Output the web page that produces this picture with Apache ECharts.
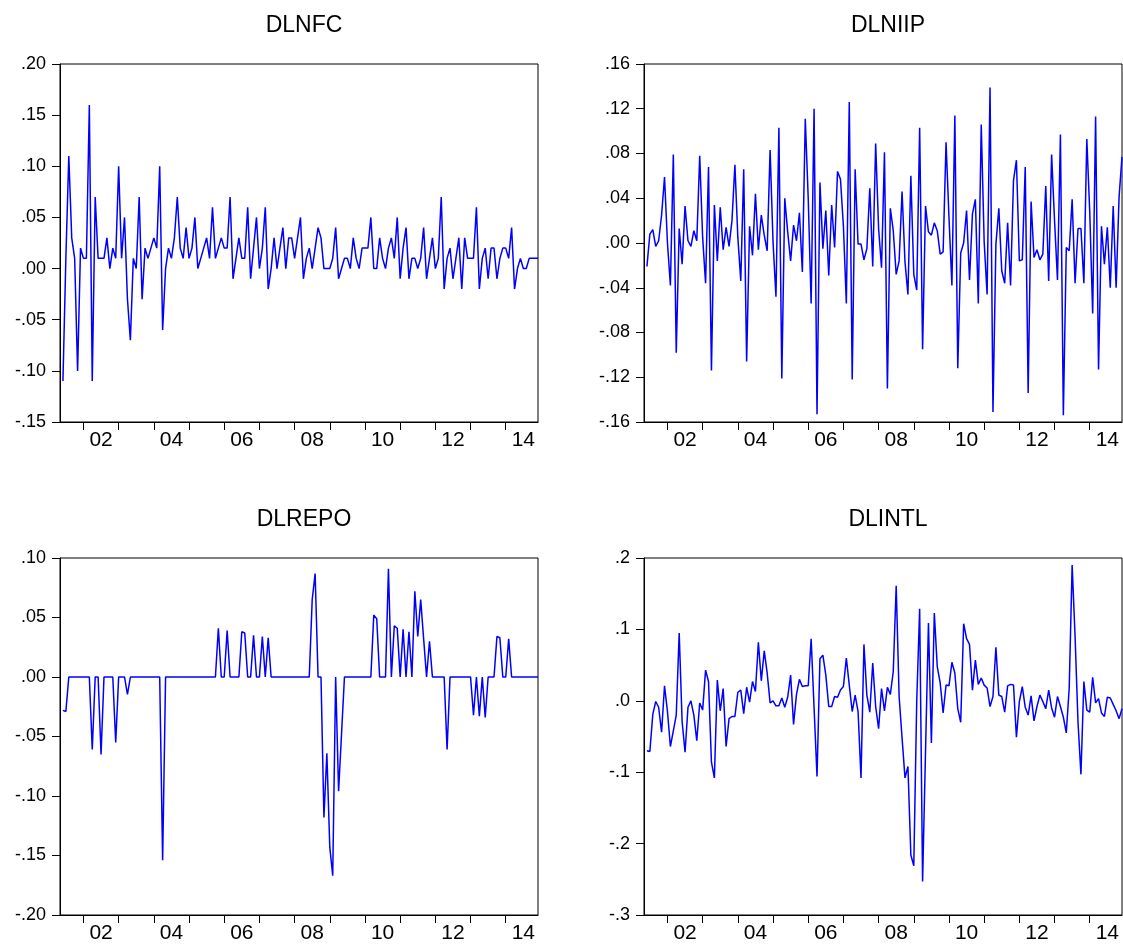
<!DOCTYPE html>
<html lang="en" style="height: 100%">
<head>
<meta charset="utf-8">
<title>DLNFC DLNIIP DLREPO DLINTL</title>
</head>
<body style="height: 100%; margin: 0; background: #fff">
<div id="container" style="width: 1123px; height: 948px"></div>
<script type="text/javascript" src="https://cdn.jsdelivr.net/npm/echarts/dist/echarts.min.js"></script>
<script type="text/javascript">
// monthly observations, 2001M06 .. 2014M12
var startYear = 2001;
var startMonth = 6;

var dlnfc = [
  -0.11, 0.01, 0.11, 0.03, 0.01, -0.10, 0.02, 0.01, 0.01, 0.16, -0.11, 0.07, 0.01, 0.01, 0.01, 0.03,
  0.00, 0.02, 0.01, 0.10, 0.01, 0.05, -0.03, -0.07, 0.01, 0.00, 0.07, -0.03, 0.02, 0.01, 0.02, 0.03,
  0.02, 0.10, -0.06, 0.00, 0.02, 0.01, 0.03, 0.07, 0.02, 0.01, 0.04, 0.01, 0.02, 0.05, 0.00, 0.01,
  0.02, 0.03, 0.01, 0.06, 0.01, 0.02, 0.03, 0.02, 0.02, 0.07, -0.01, 0.01, 0.03, 0.01, 0.01, 0.06,
  -0.01, 0.02, 0.05, 0.00, 0.02, 0.06, -0.02, 0.00, 0.03, 0.00, 0.02, 0.04, 0.00, 0.03, 0.03, 0.01,
  0.03, 0.05, -0.01, 0.01, 0.02, 0.00, 0.02, 0.04, 0.03, 0.00, 0.00, 0.00, 0.01, 0.04, -0.01, 0.00,
  0.01, 0.01, 0.00, 0.03, 0.01, 0.00, 0.02, 0.02, 0.02, 0.05, 0.00, 0.00, 0.03, 0.01, 0.00, 0.02,
  0.03, 0.01, 0.05, -0.01, 0.02, 0.04, -0.01, 0.01, 0.01, 0.00, 0.01, 0.04, -0.01, 0.01, 0.03, 0.00,
  0.01, 0.07, -0.02, 0.01, 0.02, -0.01, 0.01, 0.03, -0.02, 0.03, 0.01, 0.01, 0.01, 0.06, -0.02, 0.01,
  0.02, -0.01, 0.02, 0.02, -0.01, 0.01, 0.02, 0.02, 0.01, 0.04, -0.02, 0.00, 0.01, 0.00, 0.00, 0.01,
  0.01, 0.01, 0.01
];

var dlniip = [
  -0.021, 0.008, 0.012, -0.003, 0.002, 0.025, 0.059, 0.000, -0.038, 0.079, -0.098, 0.013, -0.019, 0.033, 0.002, -0.003,
  0.011, 0.002, 0.078, 0.005, -0.036, 0.068, -0.114, 0.034, -0.016, 0.032, -0.006, 0.014, -0.003, 0.020, 0.070, 0.005,
  -0.034, 0.066, -0.106, 0.015, -0.011, 0.044, -0.006, 0.025, 0.007, -0.007, 0.083, 0.001, -0.048, 0.103, -0.121, 0.040,
  0.010, -0.016, 0.016, 0.002, 0.027, -0.026, 0.111, 0.040, -0.054, 0.120, -0.153, 0.054, -0.005, 0.029, -0.029, 0.034,
  -0.004, 0.064, 0.057, 0.015, -0.054, 0.126, -0.122, 0.066, -0.001, -0.001, -0.015, -0.005, 0.049, -0.021, 0.089, 0.013,
  -0.022, 0.081, -0.130, 0.031, 0.011, -0.028, -0.016, 0.046, -0.017, -0.046, 0.060, -0.028, -0.042, 0.103, -0.095, 0.033,
  0.010, 0.007, 0.018, 0.011, -0.010, -0.008, 0.090, 0.023, -0.038, 0.114, -0.112, -0.009, 0.000, 0.029, -0.033, 0.026,
  0.039, -0.054, 0.106, 0.001, -0.046, 0.139, -0.151, -0.001, 0.031, -0.025, -0.036, 0.018, -0.038, 0.056, 0.074, -0.016,
  -0.015, 0.068, -0.134, 0.037, -0.013, -0.006, -0.015, -0.010, 0.051, -0.034, 0.079, 0.020, -0.033, 0.097, -0.154, -0.004,
  -0.007, 0.039, -0.036, 0.013, 0.013, -0.036, 0.093, 0.028, -0.063, 0.113, -0.113, 0.015, -0.019, 0.014, -0.040, 0.033,
  -0.040, 0.041, 0.077
];

var dlrepo = [
  -0.028, -0.029, 0, 0, 0, 0, 0, 0, 0, 0, -0.061, 0, 0, -0.065, 0, 0,
  0, 0, -0.055, 0, 0, 0, -0.0146, 0, 0, 0, 0, 0, 0, 0, 0, 0,
  0, 0, -0.154, 0, 0, 0, 0, 0, 0, 0, 0, 0, 0, 0, 0, 0,
  0, 0, 0, 0, 0, 0.041, 0, 0, 0.039, 0, 0, 0, 0, 0.038, 0.037, 0,
  0, 0.035, 0, 0, 0.034, 0, 0.033, 0, 0, 0, 0, 0, 0, 0, 0, 0,
  0, 0, 0, 0, 0, 0.065, 0.087, 0, 0, -0.118, -0.064, -0.143, -0.167, 0, -0.096, -0.048,
  0, 0, 0, 0, 0, 0, 0, 0, 0, 0, 0.052, 0.049, 0, 0, 0, 0.091,
  0, 0.043, 0.041, 0, 0.040, 0, 0.038, 0, 0.072, 0.034, 0.065, 0.032, 0, 0.030, 0, 0,
  0, 0, 0, -0.061, 0, 0, 0, 0, 0, 0, 0, 0, -0.032, 0, -0.033, 0,
  -0.034, 0, 0, 0, 0.034, 0.033, 0, 0, 0.032, 0, 0, 0, 0, 0, 0, 0,
  0, 0, 0
];

var dlintl = [
  -0.070, -0.071, -0.019, -0.001, -0.009, -0.044, 0.021, -0.015, -0.064, -0.042, -0.020, 0.095, -0.029, -0.072, -0.009, 0.000,
  -0.020, -0.056, -0.003, -0.013, 0.043, 0.027, -0.086, -0.108, 0.029, -0.014, 0.017, -0.064, -0.025, -0.022, -0.022, 0.012,
  0.015, -0.018, 0.019, -0.002, 0.027, 0.013, 0.082, 0.028, 0.070, 0.039, -0.003, 0.000, -0.007, -0.007, 0.004, -0.009,
  0.005, 0.036, -0.033, 0.009, 0.030, 0.020, 0.021, 0.021, 0.087, -0.010, -0.106, 0.059, 0.064, 0.036, -0.008, -0.008,
  0.006, 0.005, 0.015, 0.020, 0.060, 0.022, -0.015, 0.008, -0.015, -0.108, 0.079, 0.008, -0.016, 0.053, -0.008, -0.039,
  0.017, -0.014, 0.019, 0.009, 0.041, 0.161, 0.006, -0.052, -0.108, -0.092, -0.216, -0.231, -0.001, 0.129, -0.253, -0.071,
  0.109, -0.059, 0.123, 0.048, 0.025, -0.017, 0.022, 0.021, 0.054, 0.039, -0.011, -0.030, 0.108, 0.087, 0.079, 0.015,
  0.057, 0.023, 0.032, 0.022, 0.018, -0.008, 0.006, 0.075, 0.008, 0.006, -0.016, 0.021, 0.023, 0.022, -0.051, -0.001,
  0.020, -0.009, -0.020, 0.007, -0.028, -0.008, 0.008, -0.001, -0.011, 0.015, -0.010, -0.023, 0.006, -0.008, -0.023, -0.045,
  0.018, 0.190, 0.090, -0.030, -0.103, 0.027, -0.013, -0.016, 0.033, -0.003, 0.003, -0.017, -0.022, 0.005, 0.004, -0.005,
  -0.014, -0.025, -0.011
];

var yearTicks = [2002, 2003, 2004, 2005, 2006, 2007, 2008, 2009, 2010, 2011, 2012, 2013, 2014];
var yearLabels = [2002, 2004, 2006, 2008, 2010, 2012, 2014];

function monthX(i) {
  return startYear + (startMonth - 1 + i) / 12;
}

var xMin = monthX(-1);
var xMax = monthX(dlnfc.length - 1);

var panels = [
  { name: 'DLNFC', values: dlnfc, min: -0.15, max: 0.20, step: 0.05, dec: 2 },
  { name: 'DLNIIP', values: dlniip, min: -0.16, max: 0.16, step: 0.04, dec: 2 },
  { name: 'DLREPO', values: dlrepo, min: -0.20, max: 0.10, step: 0.05, dec: 2 },
  { name: 'DLINTL', values: dlintl, min: -0.3, max: 0.2, step: 0.1, dec: 1 }
];

var grids = [
  { left: 60, top: 64, width: 478, height: 358 },
  { left: 644, top: 64, width: 478, height: 358 },
  { left: 60, top: 558, width: 478, height: 357 },
  { left: 644, top: 558, width: 478, height: 357 }
];

function yFmt(dec) {
  return function (v) {
    var s = Math.abs(v).toFixed(dec).replace(/^0/, '');
    return (v < -1e-9 ? '-' : '') + s;
  };
}

var font = 'Liberation Sans, Arial, sans-serif';

var option = {
  animation: false,
  backgroundColor: '#fff',
  title: [],
  grid: [],
  xAxis: [],
  yAxis: [],
  series: []
};

panels.forEach(function (p, k) {
  var g = grids[k];
  option.grid.push({
    left: g.left, top: g.top, width: g.width, height: g.height,
    show: true, borderColor: '#000', borderWidth: 1, backgroundColor: '#fff'
  });
  option.title.push({
    text: p.name,
    left: g.left + g.width / 2,
    top: g.top - 55,
    textAlign: 'center',
    textStyle: { fontFamily: font, fontSize: 23, fontWeight: 'normal', color: '#000' }
  });
  option.xAxis.push({
    type: 'value', gridIndex: k, min: xMin, max: xMax,
    axisLine: { show: true, onZero: false, lineStyle: { color: '#000', width: 1 } },
    axisTick: { show: true, inside: false, length: 8, customValues: yearTicks, lineStyle: { color: '#000' } },
    axisLabel: {
      customValues: yearLabels.map(function (y) { return y + 0.5; }),
      formatter: function (v) { return String(Math.floor(v) % 100).padStart(2, '0'); },
      fontFamily: font, fontSize: 21, color: '#000', margin: 8
    },
    splitLine: { show: false }
  });
  option.yAxis.push({
    type: 'value', gridIndex: k, min: p.min, max: p.max, interval: p.step,
    axisLine: { show: true, onZero: false, lineStyle: { color: '#000', width: 1 } },
    axisTick: { show: true, inside: false, length: 8, lineStyle: { color: '#000' } },
    axisLabel: { formatter: yFmt(p.dec), fontFamily: font, fontSize: 18, color: '#000', margin: 14 },
    splitLine: { show: false }
  });
  option.series.push({
    type: 'line', xAxisIndex: k, yAxisIndex: k,
    showSymbol: false,
    lineStyle: { color: '#0000ff', width: 1.5 },
    data: p.values.map(function (v, i) { return [monthX(i), v]; })
  });
});

var myChart = echarts.init(document.getElementById('container'));
myChart.setOption(option);
</script>
</body>
</html>
